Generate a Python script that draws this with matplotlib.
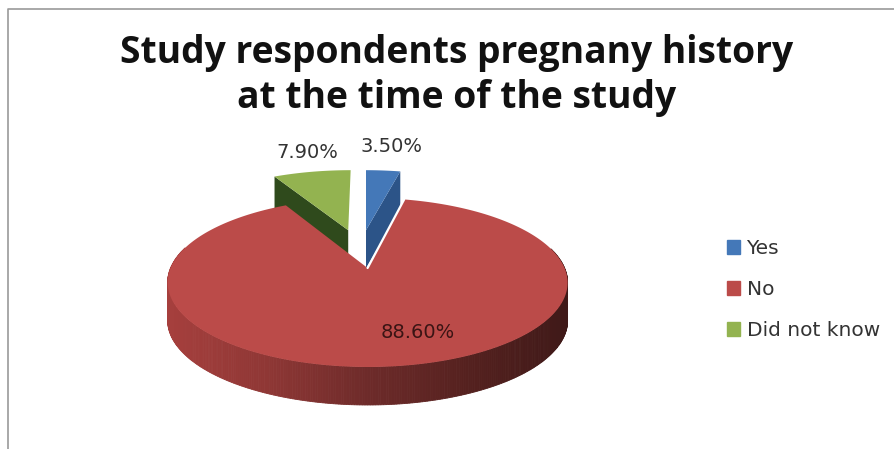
import numpy as np
import matplotlib
matplotlib.use('Agg')
from matplotlib import pyplot as plt
from matplotlib.patches import Patch

#chart values
categories = ['Yes', 'No', 'Did not know']
shares = [3.5, 88.6, 7.9]
title_lines = ['Study respondents pregnany history', 'at the time of the study']

#colours top / side
top_colors = ['#4478b8', '#bb4b49', '#93b350']
side_colors = ['#2c5488', None, '#2f4a1c']
red_side_stops = ['#a63f3d', '#8f3735', '#6e2b2a', '#55211f', '#3f1918']

#pie geometry in pixels
cx, cy = 366, 268
rx, ry = 197, 82
persp = 0.1716
depth = 38
explode = {0: (0.0, 0.5), 1: (0.008, 0.0), 2: (-0.098, 0.5)}

fig = plt.figure(figsize=(8.95, 4.49), dpi=100)
ax = fig.add_axes([0, 0, 1, 1])
ax.set_xlim(0, 895)
ax.set_ylim(449, 0)
ax.axis('off')


def project(u, v):
    s = 1 / (1 + persp * v)
    return cx + rx * u * s, cy - ry * v * s


def rim(a, b, off, n=200):
    #clockwise from 12 o'clock, angles in degrees
    t = np.radians(np.linspace(a, b, n))
    return project(np.sin(t) + off[0], np.cos(t) + off[1])


edges = np.concatenate([[0], np.cumsum(shares)]) * 3.6

#green and blue first, they sit behind the red one
for i in [2, 0]:
    a, b = edges[i], edges[i + 1]
    x, y = rim(a, b, explode[i])
    ax0, ay0 = project(*explode[i])
    #inner cut face
    if i == 0:
        fx, fy = x[-1], y[-1]
    else:
        fx, fy = x[0], y[0]
    ax.fill([ax0, fx, fx, ax0], [ay0, fy, fy + depth, ay0 + depth], color=side_colors[i], lw=0)
    ax.fill(np.r_[ax0, x], np.r_[ay0, y], color=top_colors[i], lw=0)

#red side wall, drawn in strips
a, b = edges[1], edges[2]
x, y = rim(a, b, explode[1], n=500)
stop_pos = np.linspace(0, 1, len(red_side_stops))
stop_rgb = np.array([matplotlib.colors.to_rgb(c) for c in red_side_stops])
xl, xr = x.min(), x.max()
for k in range(len(x) - 1):
    if y[k] < cy - 20:
        continue
    f = (x[k] - xl) / (xr - xl)
    col = [np.interp(f, stop_pos, stop_rgb[:, c]) for c in range(3)]
    ax.fill([x[k], x[k + 1], x[k + 1], x[k]],
            [y[k], y[k + 1], y[k + 1] + depth, y[k] + depth], color=col, lw=0.6)

#red top
ax0, ay0 = project(*explode[1])
ax.fill(np.r_[ax0, x], np.r_[ay0, y], color=top_colors[1], lw=0)
ax.plot([ax0, x[0]], [ay0, y[0]], color='white', lw=1.6, solid_capstyle='round')

#data labels
label_xy = [(392, 146), (418, 332), (307, 153)]
for i, val in enumerate(shares):
    col = '#3a1414' if i == 1 else '#333333'
    ax.text(label_xy[i][0], label_xy[i][1], '%.2f%%' % val, ha='center', va='center',
            fontsize=14, color=col, family='DejaVu Sans')

#title
ax.text(457, 53, title_lines[0], ha='center', va='center', fontsize=26.8,
        fontweight='bold', family='Open Sans', color='#111111')
ax.text(457, 98, title_lines[1], ha='center', va='center', fontsize=26.8,
        fontweight='bold', family='Open Sans', color='#111111')

#frame
ax.plot([8.5, 8.5, 895], [449, 8.5, 8.5], color='#9a9a9a', lw=1.2)

#legend
handles = [Patch(color=c) for c in top_colors]
leg = ax.legend(handles, categories, loc='upper left', bbox_to_anchor=(727 / 895, 1 - 239 / 449),
                frameon=False, labelspacing=1.1, handlelength=0.67,
                handleheight=0.67, handletextpad=0.3, borderpad=0, borderaxespad=0,
                prop={'family': 'DejaVu Sans', 'size': 14.5})
for t in leg.get_texts():
    t.set_color('#333333')

fig.savefig('out.png', dpi=100)
